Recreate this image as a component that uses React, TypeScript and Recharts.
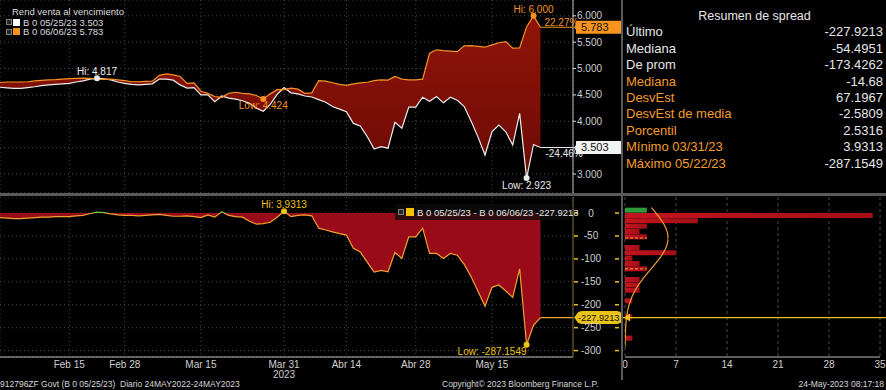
import React from 'react';
import {
  ComposedChart, Area, Line, Bar, Cell, XAxis, YAxis, CartesianGrid, ReferenceLine, ReferenceDot,
} from 'recharts';

const FONT = '"Liberation Sans", Arial, sans-serif';

// trading days shown (2023)
const dates = [
  '02/01','02/02','02/03','02/06','02/07','02/08','02/09','02/10','02/13','02/14',
  '02/15','02/16','02/17','02/21','02/22','02/23','02/24','02/27','02/28',
  '03/01','03/02','03/03','03/06','03/07','03/08','03/09','03/10','03/13','03/14','03/15',
  '03/16','03/17','03/20','03/21','03/22','03/23','03/24','03/27','03/28','03/29','03/30','03/31',
  '04/03','04/04','04/05','04/06','04/10','04/11','04/12','04/13','04/14',
  '04/17','04/18','04/19','04/20','04/21','04/24','04/25','04/26','04/27','04/28',
  '05/01','05/02','05/03','05/04','05/05','05/08','05/09','05/10','05/11','05/12',
  '05/15','05/16','05/17','05/18','05/19','05/22','05/23','05/24',
];

const tickDates = ['02/15', '02/28', '03/15', '03/31', '04/14', '04/28', '05/15'];
const tickLabels = ['Feb 15', 'Feb 28', 'Mar 15', 'Mar 31', 'Abr 14', 'Abr 28', 'May 15'];

// B 0 05/25/23 yield
const white = [
  4.645, 4.635, 4.625, 4.625, 4.64, 4.655, 4.675, 4.69, 4.70, 4.71,
  4.72, 4.745, 4.765, 4.80, 4.817, 4.805, 4.785, 4.745, 4.72, 4.70,
  4.69, 4.70, 4.71, 4.80, 4.80, 4.78, 4.69, 4.63, 4.64, 4.50,
  4.50, 4.37, 4.48, 4.44, 4.42, 4.39, 4.34, 4.25, 4.19, 4.32,
  4.51, 4.64, 4.54, 4.52, 4.48, 4.46, 4.41, 4.36, 4.28, 4.23,
  4.18, 3.96, 3.91, 3.71, 3.475, 3.52, 3.49, 3.98, 3.87, 4.27,
  4.27, 4.456, 4.38, 4.47, 4.35, 4.456, 4.40, 4.28, 4.00, 3.70,
  3.36, 3.80, 3.93, 3.80, 3.55, 4.15, 2.923, 3.56, 3.503,
];

// B 0 06/06/23 yield
const orange = [
  4.735, 4.745, 4.745, 4.745, 4.75, 4.765, 4.775, 4.785, 4.79, 4.80,
  4.81, 4.815, 4.817, 4.815, 4.80, 4.795, 4.80, 4.785, 4.77, 4.75,
  4.75, 4.755, 4.76, 4.87, 4.90, 4.88, 4.85, 4.72, 4.73, 4.57,
  4.53, 4.47, 4.45, 4.53, 4.55, 4.53, 4.52, 4.49, 4.424, 4.52,
  4.60, 4.60, 4.63, 4.61, 4.53, 4.54, 4.77, 4.76, 4.73, 4.70,
  4.68, 4.71, 4.73, 4.74, 4.77, 4.785, 4.78, 4.85, 4.80, 4.785,
  4.785, 4.80, 5.29, 5.355, 5.34, 5.33, 5.32, 5.43, 5.435, 5.42,
  5.405, 5.45, 5.49, 5.51, 5.386, 5.39, 5.79, 6.000, 5.783,
];

// spread (bp)
const spread = [
  -10, -11, -12, -12, -11, -10, -9, -9, -8, -8,
  -8, -6, -5, -1, 2, 1, -2, -4, -5, -5,
  -6, -5, -4, -3, -5, -7, -7, -6, -8, -10,
  -4, -9, 3, -5, -8, -9, -18, -24, -23, -20,
  -9, 3.9313, -8, -5, -4, -6, -33, -37, -41, -45,
  -48, -77, -85, -107, -129, -125, -128, -86, -99, -52,
  -52, -33, -88, -88, -99, -88, -92, -112, -139, -171,
  -203, -162, -157, -170, -184, -122, -287.1549, -245, -227.9213,
];

const topTicks = [3, 3.5, 4, 4.5, 5, 5.5, 6];
const botTicks = [0, -50, -100, -150, -200, -250, -300];
const SPREAD_DOMAIN = [-314, 35];

// histogram of spread: 30 equal bins from +35 (top) down to -314 (bottom)
const histCount = [
  0, 0, 3, 34, 10, 3, 2, 3, 0, 2,
  7, 1, 2, 3, 0, 2, 2, 2, 0, 1,
  0, 0, 1, 0, 0, 0, 1, 0, 0, 0,
];
const histTicks = [0, 7, 14, 21, 28, 35];

const statLabels = ['Último', 'Mediana', 'De prom', 'Mediana', 'DesvEst', 'DesvEst de media', 'Porcentil', 'Mínimo 03/31/23', 'Máximo 05/22/23'];
const statValues = ['-227.9213', '-54.4951', '-173.4262', '-14.68', '67.1967', '-2.5809', '2.5316', '3.9313', '-287.1549'];
const statOrange = [false, false, false, true, true, true, true, true, true];
const spreadMean = -54.4951;
const spreadSd = 67.1967;
const curvePeak = 5.9;

const XMAX = 82.7;
const LAST = dates.length - 1;
const tickIdx = tickDates.map((d) => dates.indexOf(d));

const rows = dates.map((d, i) => ({
  i, d, w: white[i], o: orange[i],
  band: [Math.min(white[i], orange[i]), Math.max(white[i], orange[i])],
  s: spread[i],
}));

const binStep = (SPREAD_DOMAIN[1] - SPREAD_DOMAIN[0]) / histCount.length;
const histRows = histCount.map((n, k) => ({ k, n, mid: SPREAD_DOMAIN[1] - binStep * (k + 0.5) }));

// fitted normal curve of the spread distribution (mean / sd from the summary table)
const curveRows: { mid: number; pdf: number }[] = [];
for (let v = 12; v >= -292; v -= 4) {
  const z = (v - spreadMean) / spreadSd;
  curveRows.push({ mid: v, pdf: curvePeak * Math.exp(-0.5 * z * z) });
}

const idxMax = (a: number[]) => a.indexOf(Math.max(...a));
const idxMin = (a: number[]) => a.indexOf(Math.min(...a));
const wHi = idxMax(white), wLo = idxMin(white), oHi = idxMax(orange), oLo = idxMin(orange);
const sHi = idxMax(spread), sLo = idxMin(spread);

const WHITE = '#ececec';
const ORANGE = '#f39325';
const YELLOW = '#e9c21a';
const GRID = '#4a4a4a';
const TXT = '#cfcfcf';

const marker = (text: string, color: string, dx: number, dy: number, anchor: string) => (p: any) => (
  <g>
    <circle cx={p.cx} cy={p.cy} r={3} fill={color} />
    <text x={p.cx + dx} y={p.cy + dy} textAnchor={anchor} fontSize={10} fill={color} fontFamily={FONT}>{text}</text>
  </g>
);

const textOnly = (text: string, color: string, dx: number, dy: number) => (p: any) => (
  <text x={p.cx + dx} y={p.cy + dy} fontSize={10} fill={color} fontFamily={FONT}>{text}</text>
);

const valueBox = (text: string, bg: string, pill: boolean) => (p: any) => (
  <g>
    <polygon points={`${p.cx + 1},${p.cy} ${p.cx + 6},${p.cy - 6} ${p.cx + 6},${p.cy + 6}`} fill={bg} />
    <rect x={p.cx + 3} y={p.cy - 6.5} width={pill ? 47 : 45} height={13} rx={pill ? 6 : 0} fill={bg} />
    <text x={p.cx + (pill ? 5 : 8)} y={p.cy + 3.6} fontSize={pill ? 9.2 : 11} fill="#111" fontFamily={FONT}>{text}</text>
  </g>
);

const TopTick = (p: any) => {
  const v = Number(p.payload.value);
  const hidden = Math.abs(v - white[LAST]) < 0.12 || Math.abs(v - orange[LAST]) < 0.12;
  return (
    <g>
      <line x1={p.x} x2={p.x + 3} y1={p.y} y2={p.y} stroke="#ddd" />
      {hidden ? null : (
        <text x={p.x + 4} y={p.y + 3.5} fontSize={10} fill={TXT} fontFamily={FONT}>{v.toFixed(3)}</text>
      )}
    </g>
  );
};

const BotTick = (p: any) => (
  <g>
    <line x1={p.x + 1} x2={p.x + 5} y1={p.y} y2={p.y} stroke={YELLOW} strokeWidth={1.5} />
    <text x={p.x + 18} y={p.y + 3.5} fontSize={10} fill={TXT} textAnchor="middle" fontFamily={FONT}>{p.payload.value}</text>
    <line x1={p.x + 42} x2={p.x + 46} y1={p.y} y2={p.y} stroke={YELLOW} strokeWidth={1.5} />
  </g>
);

const DateTick = (p: any) => {
  const k = tickIdx.indexOf(p.payload.value);
  const label = tickLabels[k];
  return (
    <g>
      <text x={p.x} y={p.y + 11} fontSize={10} fill={TXT} textAnchor="middle" fontFamily={FONT}>{label}</text>
      {label === 'Mar 31' ? (
        <text x={p.x} y={p.y + 21} fontSize={10} fill={TXT} textAnchor="middle" fontFamily={FONT}>2023</text>
      ) : null}
    </g>
  );
};

const HistTick = (p: any) => (
  <text x={p.x} y={p.y + 11} fontSize={10} fill={TXT} textAnchor="middle" fontFamily={FONT}>{p.payload.value}</text>
);

const triangle = (p: any) => (
  <polygon points={`${p.cx - 1},${p.cy} ${p.cx + 5},${p.cy - 4} ${p.cx + 5},${p.cy + 4}`} fill={YELLOW} />
);

const zeroOff = Math.max(...spread) / (Math.max(...spread) - Math.min(...spread));

const iconBox: React.CSSProperties = {
  display: 'inline-block', flex: '0 0 auto', boxSizing: 'border-box', width: 6, height: 6,
  border: '1px solid #808080', background: '#262626',
};

export default function App() {
  return (
    <div style={{ position: 'relative', width: 886, height: 390, background: '#000', overflow: 'hidden', fontFamily: FONT }}>
      <style>{'body{margin:0;background:#000}'}</style>

      {/* top panel */}
      <div style={{ position: 'absolute', left: 0, top: 0 }}>
        <ComposedChart width={622} height={193} data={rows} margin={{ top: 0, right: 0, bottom: 0, left: 0 }}>
          <defs>
            <linearGradient id="topFill" x1="0" y1="0" x2="0" y2="1">
              <stop offset="0" stopColor="#901508" />
              <stop offset="1" stopColor="#6c0a06" />
            </linearGradient>
          </defs>
          <CartesianGrid stroke={GRID} strokeDasharray="1 3" />
          <XAxis type="number" dataKey="i" domain={[0, XMAX]} ticks={tickIdx} hide allowDataOverflow />
          <YAxis type="number" orientation="right" domain={[2.64, 6.3]} ticks={topTicks} width={49} interval={0}
            axisLine={{ stroke: '#bdbdbd' }} tickLine={false} tickSize={0} tickMargin={0} tick={<TopTick />} allowDataOverflow />
          <Area type="linear" dataKey="band" stroke="none" fill="url(#topFill)" fillOpacity={1} activeDot={false} isAnimationActive={false} />
          <Line type="linear" dataKey="w" stroke={WHITE} strokeWidth={1.2} dot={false} activeDot={false} isAnimationActive={false} />
          <Line type="linear" dataKey="o" stroke={ORANGE} strokeWidth={1.2} dot={false} activeDot={false} isAnimationActive={false} />
          <ReferenceLine segment={[{ x: LAST, y: orange[LAST] }, { x: XMAX, y: orange[LAST] }]} stroke={ORANGE} strokeWidth={1.2} />
          <ReferenceLine segment={[{ x: LAST, y: white[LAST] }, { x: XMAX, y: white[LAST] }]} stroke={WHITE} strokeWidth={1.2} />
          <ReferenceDot x={wHi} y={white[wHi]} shape={marker(`Hi: ${white[wHi].toFixed(3)}`, WHITE, 0, -3, 'middle')} />
          <ReferenceDot x={oLo} y={orange[oLo]} shape={marker(`Low: ${orange[oLo].toFixed(3)}`, ORANGE, 0, 10, 'middle')} />
          <ReferenceDot x={oHi} y={orange[oHi]} shape={marker(`Hi: ${orange[oHi].toFixed(3)}`, ORANGE, 0, -3, 'middle')} />
          <ReferenceDot x={wLo} y={white[wLo]} shape={marker(`Low: ${white[wLo].toFixed(3)}`, WHITE, 0, 10.5, 'middle')} />
          <ReferenceDot x={LAST} y={orange[LAST]} shape={textOnly('22.27%', ORANGE, 4, -1)} />
          <ReferenceDot x={LAST} y={white[LAST]} shape={textOnly('-24.46%', WHITE, 5, 10)} />
          <ReferenceDot x={XMAX} y={orange[LAST]} shape={valueBox(orange[LAST].toFixed(3), '#f7931e', false)} />
          <ReferenceDot x={XMAX} y={white[LAST]} shape={valueBox(white[LAST].toFixed(3), '#f2f2f2', false)} />
        </ComposedChart>
      </div>

      {/* bottom panel */}
      <div style={{ position: 'absolute', left: 0, top: 197 }}>
        <ComposedChart width={622} height={186} data={rows} margin={{ top: 0, right: 0, bottom: 0, left: 0 }}>
          <defs>
            <linearGradient id="sGrad" x1="0" y1="0" x2="0" y2="1">
              <stop offset="0" stopColor="#7cc242" />
              <stop offset={zeroOff} stopColor="#7cc242" />
              <stop offset={zeroOff} stopColor="#f0a030" />
              <stop offset="1" stopColor="#f0a030" />
            </linearGradient>
          </defs>
          <CartesianGrid stroke={GRID} strokeDasharray="1 3" />
          <XAxis type="number" dataKey="i" domain={[0, XMAX]} ticks={tickIdx} height={26} interval={0}
            axisLine={{ stroke: '#bdbdbd' }} tickLine={false} tickSize={0} tickMargin={0} tick={<DateTick />} allowDataOverflow />
          <YAxis type="number" orientation="right" domain={SPREAD_DOMAIN} ticks={botTicks} width={49} interval={0}
            axisLine={{ stroke: '#7a6a2a' }} tickLine={false} tickSize={0} tickMargin={0} tick={<BotTick />} allowDataOverflow />
          <Area type="linear" dataKey="s" baseValue={0} stroke="none" fill="#9a0b1a" fillOpacity={1} activeDot={false} isAnimationActive={false} />
          <Line type="linear" dataKey="s" stroke="url(#sGrad)" strokeWidth={1.2} dot={false} activeDot={false} isAnimationActive={false} />
          <ReferenceLine segment={[{ x: LAST, y: spread[LAST] }, { x: XMAX, y: spread[LAST] }]} stroke="#f0a030" strokeWidth={1.2} />
          <ReferenceDot x={sHi} y={spread[sHi]} shape={marker(`Hi: ${spread[sHi].toFixed(4)}`, YELLOW, 0, -3, 'middle')} />
          <ReferenceDot x={sLo} y={spread[sLo]} shape={marker(`Low: ${spread[sLo].toFixed(4)}`, YELLOW, 0, 10, 'end')} />
          <ReferenceDot x={XMAX} y={spread[LAST]} shape={valueBox(spread[LAST].toFixed(4), YELLOW, true)} />
        </ComposedChart>
      </div>

      {/* histogram bars */}
      <div style={{ position: 'absolute', left: 622, top: 197 }}>
        <ComposedChart layout="vertical" width={264} height={186} data={histRows} margin={{ top: 0, right: 6, bottom: 0, left: 3 }}>
          <defs>
            <linearGradient id="barFill" x1="0" y1="0" x2="1" y2="0">
              <stop offset="0" stopColor="#c4141f" />
              <stop offset="1" stopColor="#a30f18" />
            </linearGradient>
          </defs>
          <CartesianGrid horizontal={false} stroke={GRID} strokeDasharray="3 3" />
          <XAxis type="number" domain={[0, 35]} ticks={histTicks} height={26} interval={0}
            axisLine={{ stroke: '#bdbdbd' }} tickLine={false} tickSize={0} tickMargin={0} tick={<HistTick />} allowDataOverflow />
          <YAxis type="category" dataKey="k" hide />
          <Bar dataKey="n" barSize={5} activeBar={false} isAnimationActive={false}>
            {histRows.map((r, k) => (
              <Cell key={k} fill={r.mid > 0 ? '#2f9a3a' : 'url(#barFill)'} />
            ))}
          </Bar>
        </ComposedChart>
      </div>

      {/* histogram overlay: fitted curve, mean lines, last value */}
      <div style={{ position: 'absolute', left: 622, top: 197 }}>
        <ComposedChart width={264} height={186} data={curveRows} margin={{ top: 0, right: 6, bottom: 26, left: 3 }}>
          <XAxis type="number" dataKey="pdf" domain={[0, 35]} hide allowDataOverflow />
          <YAxis type="number" domain={SPREAD_DOMAIN} hide allowDataOverflow />
          <Line type="monotone" dataKey="mid" stroke="#f0a030" strokeWidth={1.2} dot={false} activeDot={false} isAnimationActive={false} />
          <ReferenceLine segment={[{ x: 0, y: spreadMean }, { x: 3, y: spreadMean }]} stroke="#f0a030" strokeDasharray="3 2" />
          <ReferenceLine segment={[{ x: 0, y: spreadMean - spreadSd }, { x: 3, y: spreadMean - spreadSd }]} stroke="#f0a030" strokeDasharray="3 2" />
          <ReferenceLine segment={[{ x: -0.4, y: spread[LAST] }, { x: 35.8, y: spread[LAST] }]} ifOverflow="visible" stroke={YELLOW} strokeWidth={1.3} />
          <ReferenceDot x={0} y={spread[LAST]} shape={triangle} />
        </ComposedChart>
      </div>

      {/* separators */}
      <div style={{ position: 'absolute', left: 0, top: 193, width: 886, height: 3, background: '#5a5a5a' }} />
      <div style={{ position: 'absolute', left: 621, top: 0, width: 2, height: 380, background: '#5a5a5a' }} />

      {/* top legend */}
      <div style={{ position: 'absolute', left: 12, top: 6, fontSize: 9.5, color: '#dcdcdc', whiteSpace: 'pre' }}>Rend venta al vencimiento</div>
      {[['B 0 05/25/23 ' + white[LAST].toFixed(3), '#ffffff'], ['B 0 06/06/23 ' + orange[LAST].toFixed(3), '#f7931e']].map(([t, c], k) => (
        <div key={k} style={{ position: 'absolute', left: 6, top: 17 + k * 9.7, height: 10, display: 'flex', alignItems: 'center', fontSize: 9.5, color: '#dcdcdc', whiteSpace: 'pre' }}>
          <span style={{ ...iconBox, marginRight: 1 }} />
          <span style={{ display: 'inline-block', flex: '0 0 auto', width: 7, height: 7, background: c, marginRight: 3 }} />
          <span>{t}</span>
        </div>
      ))}

      {/* bottom legend */}
      <div style={{ position: 'absolute', left: 395, top: 204, width: 175, height: 16, background: 'rgba(12,12,12,0.75)', display: 'flex', alignItems: 'center', fontSize: 9.5, color: '#e6e6e6', whiteSpace: 'pre' }}>
        <span style={{ ...iconBox, marginLeft: 3, marginRight: 2 }} />
        <span style={{ display: 'inline-block', flex: '0 0 auto', width: 8, height: 8, background: '#f5c400', marginRight: 3 }} />
        <span>{'B 0 05/25/23 - B 0 06/06/23 ' + spread[LAST].toFixed(4)}</span>
      </div>

      {/* stats panel */}
      <div style={{ position: 'absolute', left: 626, top: 8, width: 257, textAlign: 'center', fontSize: 12.5, color: '#e6e6e6', lineHeight: '16px' }}>Resumen de spread</div>
      {statLabels.map((l, k) => (
        <div key={k} style={{ position: 'absolute', left: 626, top: 24.3 + k * 16.42, width: 257, height: 16, lineHeight: '16px', display: 'flex', justifyContent: 'space-between', fontSize: 13 }}>
          <span style={{ color: statOrange[k] ? '#f39c2b' : '#e6e6e6' }}>{l}</span>
          <span style={{ color: '#e6e6e6' }}>{statValues[k]}</span>
        </div>
      ))}

      {/* footer */}
      <div style={{ position: 'absolute', left: 0, top: 379, fontSize: 8.5, color: '#d8d8d8', whiteSpace: 'pre' }}>912796ZF Govt (B 0 05/25/23)  Diario 24MAY2022-24MAY2023</div>
      <div style={{ position: 'absolute', left: 442, top: 379, fontSize: 8.5, color: '#d8d8d8', whiteSpace: 'pre' }}>Copyright© 2023 Bloomberg Finance L.P.</div>
      <div style={{ position: 'absolute', right: 2, top: 379, fontSize: 8.5, color: '#d8d8d8', whiteSpace: 'pre' }}>24-May-2023 08:17:18</div>
    </div>
  );
}
